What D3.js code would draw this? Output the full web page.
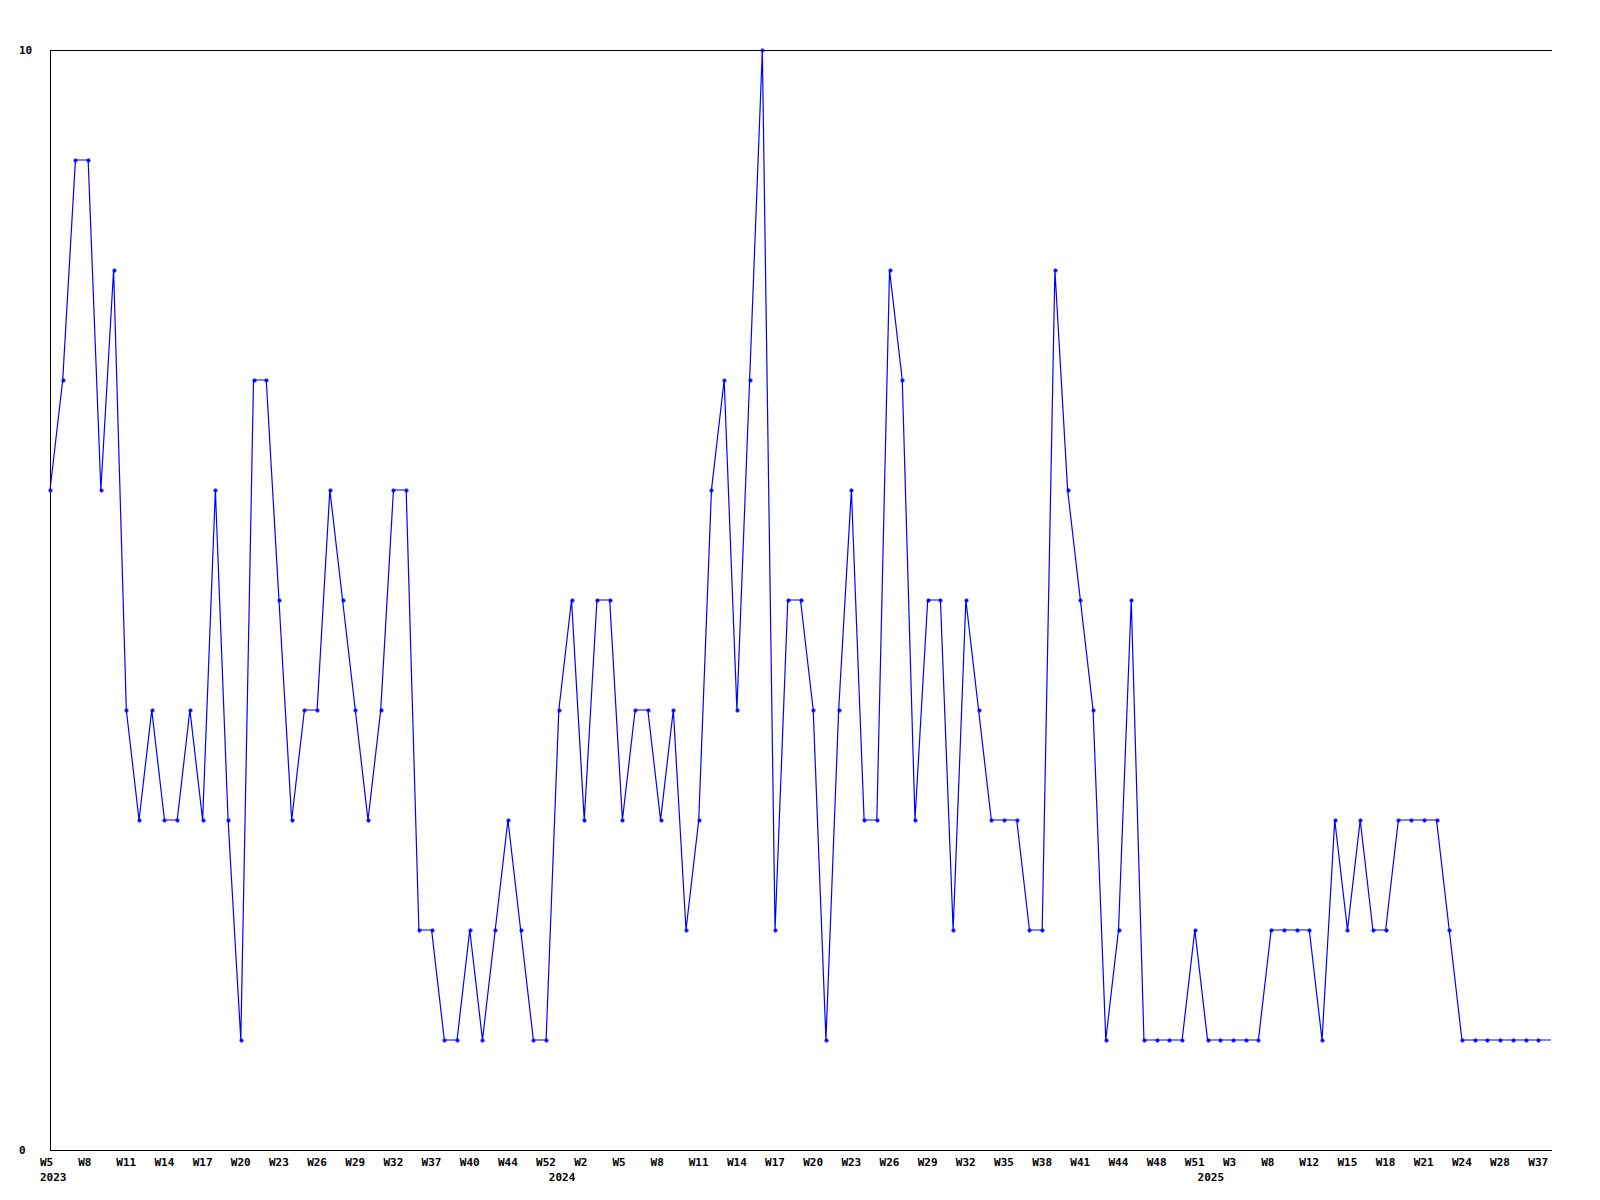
<!DOCTYPE html>
<html>
<head>
<meta charset="utf-8">
<script src="https://cdn.jsdelivr.net/npm/d3@7"></script>
<style>
  html, body { margin: 0; padding: 0; background: #fff; }
  svg { display: block; }
  text { font-family: "DejaVu Sans Mono", monospace; font-weight: bold; font-size: 11px; fill: #000; }
</style>
</head>
<body>
<svg id="chart" width="1600" height="1200"></svg>
<script>
// weeks with data, per year (missing weeks are skipped on the axis)
const weeks2023 = [5, 6, 7, 8, 9, 10, 11, 12, 13, 14, 15, 16, 17, 18, 19, 20, 21, 22, 23, 24,
  25, 26, 27, 28, 29, 30, 31, 32, 33, 35, 37, 38, 39, 40, 41, 43, 44, 46, 49, 52];
const weeks2024 = [0, 1, 2, 3, 4, 5, 6, 7, 8, 9, 10, 11, 12, 13, 14, 15, 16, 17, 18, 19,
  20, 21, 22, 23, 24, 25, 26, 27, 28, 29, 30, 31, 32, 33, 34, 35, 36, 37, 38, 39,
  40, 41, 42, 43, 44, 45, 47, 48, 49, 50, 51];
const weeks2025 = [0, 1, 3, 5, 6, 8, 9, 11, 12, 13, 14, 15, 16, 17, 18, 19, 20, 21, 22, 23,
  24, 25, 27, 28, 31, 34, 37, 38];

const counts = [
  6, 7, 9, 9, 6, 8, 4, 3, 4, 3,
  3, 4, 3, 6, 3, 1, 7, 7, 5, 3,
  4, 4, 6, 5, 4, 3, 4, 6, 6, 2,
  2, 1, 1, 2, 1, 2, 3, 2, 1, 1,
  4, 5, 3, 5, 5, 3, 4, 4, 3, 4,
  2, 3, 6, 7, 4, 7, 10, 2, 5, 5,
  4, 1, 4, 6, 3, 3, 8, 7, 3, 5,
  5, 2, 5, 4, 3, 3, 3, 2, 2, 8,
  6, 5, 4, 1, 2, 5, 1, 1, 1, 1,
  2, 1, 1, 1, 1, 1, 2, 2, 2, 2,
  1, 3, 2, 3, 2, 2, 3, 3, 3, 3,
  2, 1, 1, 1, 1, 1, 1, 1, 1
];

const yTicks = [0, 10];
const tickEvery = 3;

const weeks = [
  ...weeks2023.map(w => ({ year: 2023, week: w })),
  ...weeks2024.map(w => ({ year: 2024, week: w })),
  ...weeks2025.map(w => ({ year: 2025, week: w }))
];
const data = weeks.map((d, i) => ({ ...d, key: d.year + '-W' + d.week, value: counts[i] }));

const svg = d3.select('#chart');
const margin = { top: 50, right: 49, bottom: 50, left: 50 };
const width = 1600, height = 1200;

const x = d3.scalePoint()
  .domain(data.map(d => d.key))
  .range([margin.left, width - margin.right]);

const y = d3.scaleLinear()
  .domain([0, 10])
  .range([height - margin.bottom, margin.top]);

// frame: left, top, bottom
const x0 = margin.left + 0.5, x1 = width - margin.right + 0.5;
svg.append('path')
  .attr('d', `M${x1},${y(10) + 0.5}H${x0}V${y(0) + 0.5}H${x1}`)
  .attr('fill', 'none')
  .attr('stroke', '#000')
  .attr('stroke-width', 1)
  .attr('shape-rendering', 'crispEdges');

// y labels
svg.selectAll('.ylab')
  .data(yTicks)
  .enter()
  .append('text')
  .attr('class', 'ylab')
  .attr('x', 19)
  .attr('y', d => y(d) + 4)
  .text(d => d);

// x labels every 3rd point
svg.selectAll('.xlab')
  .data(data.filter((d, i) => i % tickEvery === 0))
  .enter()
  .append('text')
  .attr('class', 'xlab')
  .attr('x', d => x(d.key) - 10)
  .attr('y', height - margin.bottom + 16)
  .text(d => 'W' + d.week);

// year labels where the year begins
svg.selectAll('.yearlab')
  .data(data.filter((d, i) => i === 0 || data[i - 1].year !== d.year))
  .enter()
  .append('text')
  .attr('class', 'yearlab')
  .attr('x', d => x(d.key) - 10)
  .attr('y', height - margin.bottom + 31)
  .text(d => d.year);

// series line
const line = d3.line()
  .x(d => x(d.key))
  .y(d => y(d.value));

svg.append('path')
  .datum(data)
  .attr('d', line)
  .attr('fill', 'none')
  .attr('stroke', '#0000ff')
  .attr('stroke-width', 1.2);

// markers (last point has none)
svg.selectAll('.marker')
  .data(data.slice(0, -1))
  .enter()
  .append('path')
  .attr('class', 'marker')
  .attr('d', d => {
    const cx = Math.round(x(d.key)) + 0.5, cy = Math.round(y(d.value)) + 0.5;
    return `M${cx - 2},${cy}H${cx + 2}M${cx},${cy - 2}V${cy + 2}`;
  })
  .attr('stroke', '#0000ff')
  .attr('stroke-width', 2)
  .attr('fill', 'none');
</script>
</body>
</html>
